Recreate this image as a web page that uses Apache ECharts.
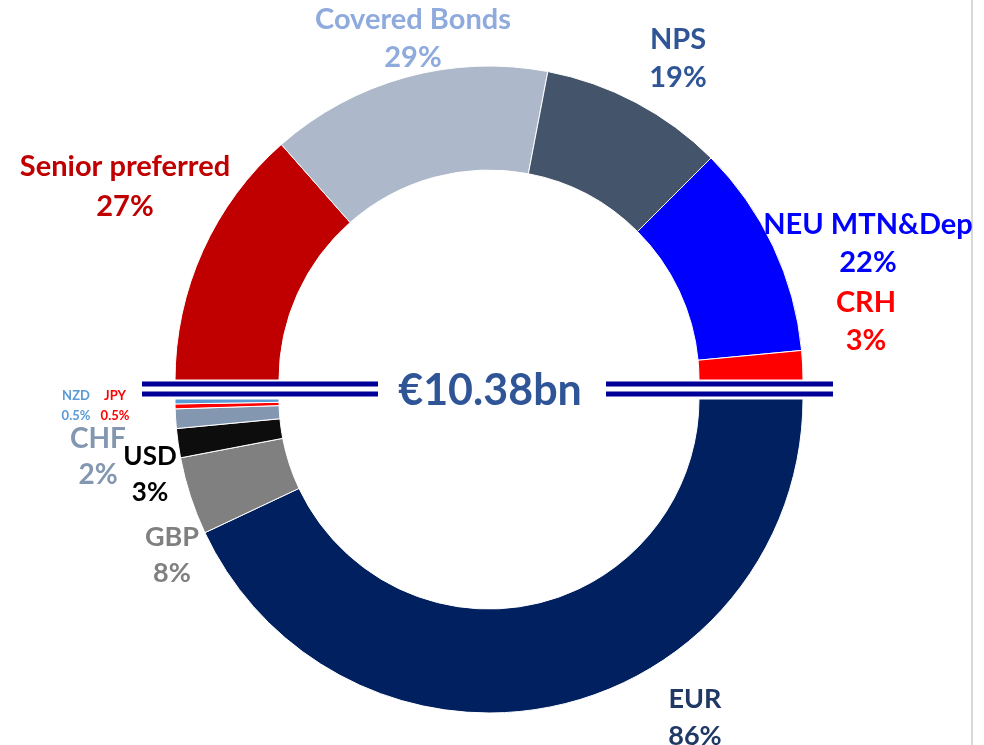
<!DOCTYPE html>
<html>
<head>
    <meta charset="UTF-8">
    <title>Funding split</title>
    <script src="https://cdn.jsdelivr.net/npm/echarts@6/dist/echarts.min.js"></script>
    <style>
        body { margin: 0; background: #fff; }
        #chart { width: 984px; height: 745px; }
    </style>
</head>
<body>
    <div id="chart"></div>

    <script>
        // top half: by product
        var productNames = ['Senior preferred', 'Covered Bonds', 'NPS', 'NEU MTN&Dep', 'CRH'];
        var productValues = [27, 29, 19, 22, 3];
        // bottom half: by currency
        var currencyNames = ['EUR', 'GBP', 'USD', 'CHF', 'JPY', 'NZD'];
        var currencyValues = [86, 8, 3, 2, 0.5, 0.5];
        var totalLabel = '€10.38bn';

        // styles
        var productColors = ['#C00000', '#ADB9CA', '#44546A', '#0000FF', '#FF0000'];
        var productLabelColors = ['#C00000', '#8FAADC', '#2F5597', '#0000FF', '#FF0000'];
        var currencyColors = ['#002060', '#808080', '#0D0D0D', '#8497B0', '#FF0000', '#5B9BD5'];
        var currencyLabelColors = ['#1F3864', '#808080', '#000000', '#8497B0', '#FF0000', '#5B9BD5'];

        // where each label sits (centre of the two-line block), font size, line height
        var labelPos = {
            'Senior preferred': [125, 187, 29, 40],
            'Covered Bonds': [413, 39, 29, 38],
            'NPS': [678, 59, 29, 38],
            'NEU MTN&Dep': [868, 244, 29, 38],
            'CRH': [866, 322, 29, 38],
            'EUR': [695, 718, 27, 37],
            'GBP': [172, 555, 27, 36],
            'USD': [150, 475, 26, 36],
            'CHF': [98, 457, 28, 36],
            'JPY': [115, 406, 13, 20],
            'NZD': [76, 406, 13, 20]
        };

        var FONT = 'Lato, "Open Sans", sans-serif';
        var seriesNames = [productNames, currencyNames];

        function buildData(names, values, colors, labelColors) {
            var out = names.map(function (n, i) {
                var p = labelPos[n];
                return {
                    name: n,
                    value: values[i],
                    itemStyle: { color: colors[i] },
                    label: { color: labelColors[i], fontSize: p[2], lineHeight: p[3] }
                };
            });
            // invisible half that keeps each ring to 180 degrees
            out.push({
                name: '',
                value: 100,
                itemStyle: { color: 'rgba(0,0,0,0)', borderWidth: 0 },
                label: { show: false },
                labelLine: { show: false },
                emphasis: { disabled: true }
            });
            return out;
        }

        function placeLabel(params) {
            var name = seriesNames[params.seriesIndex][params.dataIndex];
            var p = labelPos[name];
            if (!p) return {};
            return { x: p[0], y: p[1], align: 'center', verticalAlign: 'middle' };
        }

        var ringBase = {
            type: 'pie',
            radius: [210, 314],
            clockwise: true,
            avoidLabelOverlap: false,
            silent: true,
            itemStyle: { borderColor: '#fff', borderWidth: 1 },
            label: {
                show: true,
                position: 'outside',
                formatter: '{b}\n{c}%',
                fontFamily: FONT,
                fontWeight: 'bold'
            },
            labelLine: { show: false },
            labelLayout: placeLabel
        };

        var chart = echarts.init(document.getElementById('chart'), null, { renderer: 'canvas' });

        var option = {
            animation: false,
            backgroundColor: '#fff',
            series: [
                Object.assign({}, ringBase, {
                    center: [489, 380],
                    startAngle: 180,
                    data: buildData(productNames, productValues, productColors, productLabelColors)
                }),
                Object.assign({}, ringBase, {
                    center: [489, 399],
                    startAngle: 0,
                    data: buildData(currencyNames, currencyValues, currencyColors, currencyLabelColors)
                })
            ],
            graphic: [
                // double separators
                { type: 'line', shape: { x1: 142, y1: 384, x2: 378, y2: 384 }, style: { stroke: '#000099', lineWidth: 5 }, z: 10 },
                { type: 'line', shape: { x1: 142, y1: 394, x2: 378, y2: 394 }, style: { stroke: '#000099', lineWidth: 5 }, z: 10 },
                { type: 'line', shape: { x1: 606, y1: 384, x2: 833, y2: 384 }, style: { stroke: '#000099', lineWidth: 5 }, z: 10 },
                { type: 'line', shape: { x1: 606, y1: 394, x2: 833, y2: 394 }, style: { stroke: '#000099', lineWidth: 5 }, z: 10 },
                // page edge on the right
                { type: 'line', shape: { x1: 972, y1: 0, x2: 972, y2: 745 }, style: { stroke: '#D9D9D9', lineWidth: 2 } },
                {
                    type: 'text',
                    x: 490, y: 391,
                    z: 10,
                    style: {
                        text: totalLabel,
                        fill: '#2F5597',
                        font: 'bold 43px ' + FONT,
                        textAlign: 'center',
                        textVerticalAlign: 'middle'
                    }
                }
            ]
        };

        chart.setOption(option);
    </script>
</body>
</html>
